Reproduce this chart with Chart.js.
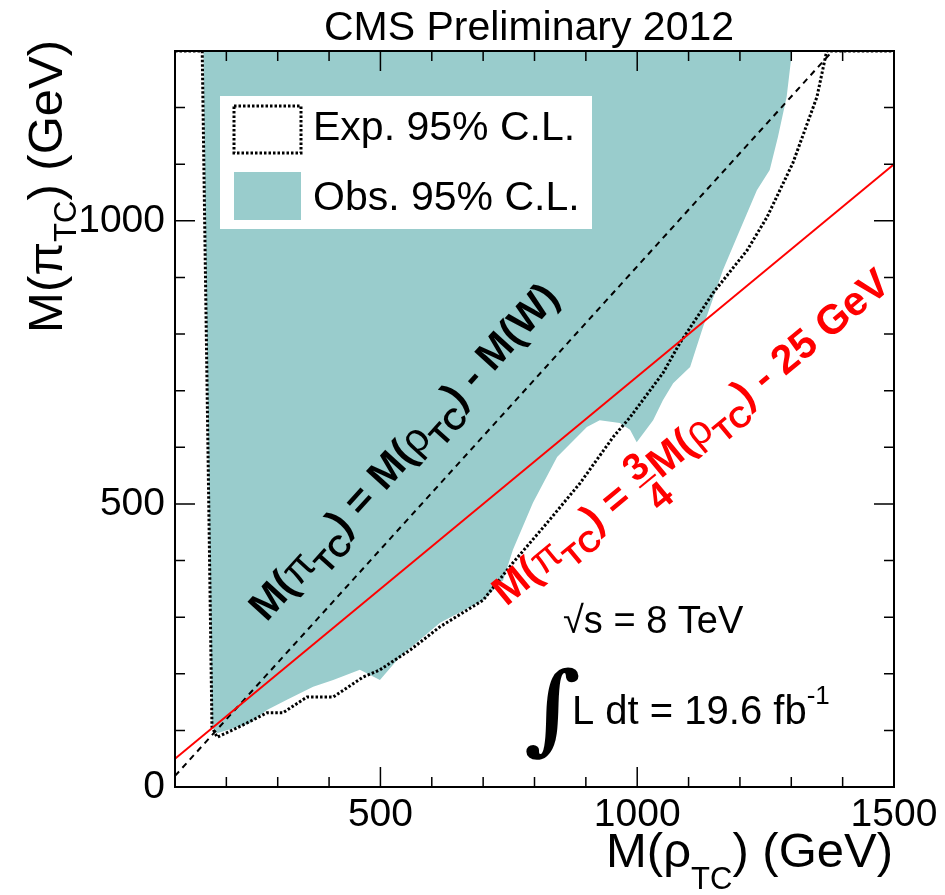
<!DOCTYPE html>
<html>
<head>
<meta charset="utf-8">
<script src="https://cdn.jsdelivr.net/npm/chart.js@4.4.1/dist/chart.umd.min.js"></script>
<style>
  html, body { margin: 0; padding: 0; background: #fff; }
  canvas { display: block; }
</style>
</head>
<body>
<canvas id="limits" width="945" height="895"></canvas>
<script>
// observed 95% CL exclusion (filled up to the top of the plot)
const obsRho = [155, 172, 182, 246, 279, 318, 369, 408, 460, 499, 538, 616, 700, 739, 758, 797, 844, 902, 927, 966, 986, 999, 1031, 1050, 1070, 1103, 1128, 1167, 1200, 1233, 1258, 1274, 1291, 1301, 1302];
const obsPi  = [1300, 106, 95, 113, 136, 154, 177, 189, 207, 189, 230, 290, 330, 365, 419, 502, 583, 636, 648, 643, 631, 609, 648, 683, 713, 742, 812, 913, 984, 1054, 1090, 1148, 1219, 1296, 1300];

// expected 95% CL contour
const expRho = [100, 153, 172, 182, 213, 240, 279, 310, 357, 408, 466, 499, 558, 616, 700, 758, 824, 889, 953, 986, 1050, 1083, 1148, 1214, 1253, 1303, 1350, 1369, 1500];
const expPi  = [1300, 1300, 106, 88, 101, 113, 131, 131, 159, 159, 194, 207, 242, 283, 330, 396, 466, 537, 618, 653, 731, 784, 873, 948, 1007, 1102, 1219, 1300, 1300];

// kinematic lines: M(pi) = M(rho) - M(W), M(pi) = 3/4 M(rho) - 25
const wLineRho = [100, 1380.4];
const wLinePi  = [19.6, 1300];
const redLineRho = [100, 1500];
const redLinePi  = [50, 1100];

const xTickLabels = [500, 1000, 1500];
const yTickLabels = [0, 500, 1000];

const F = '"Liberation Sans", Helvetica, Arial, sans-serif';
const TEAL = '#99cccc';

const pts = (xs, ys) => xs.map((v, i) => ({ x: v, y: ys[i] }));

// draw a run of text pieces (with sub/superscripts, fractions) starting at local 0,0
function runText(ctx, parts, draw) {
  let x = 0;
  for (const p of parts) {
    ctx.font = p.f;
    if (p.frac) {
      const w = Math.max(ctx.measureText(p.frac[0]).width, ctx.measureText(p.frac[1]).width);
      if (draw) {
        ctx.textAlign = 'center';
        ctx.fillText(p.frac[0], x + 2 + w / 2, p.num);
        ctx.fillText(p.frac[1], x + 2 + w / 2, p.den);
        ctx.fillRect(x + 2, p.bar, w, 2);
        ctx.textAlign = 'left';
      }
      x += w + 3;
    } else {
      if (draw) ctx.fillText(p.t, x, p.dy || 0);
      x += ctx.measureText(p.t).width;
    }
  }
  return x;
}

function placeText(ctx, x, y, ang, parts, color, align) {
  ctx.save();
  ctx.fillStyle = color;
  ctx.textBaseline = 'alphabetic';
  ctx.textAlign = 'left';
  const w = runText(ctx, parts, false);
  ctx.translate(x, y);
  ctx.rotate(ang);
  if (align === 'right') ctx.translate(-w, 0);
  runText(ctx, parts, true);
  ctx.restore();
}

const rootFrame = {
  id: 'rootFrame',
  afterDatasetsDraw(chart) {
    const { ctx, chartArea: a, scales: { x, y } } = chart;
    ctx.save();
    ctx.strokeStyle = '#000';
    ctx.lineWidth = 1.5;
    ctx.beginPath();
    x.ticks.forEach(t => {
      const px = x.getPixelForValue(t.value);
      const L = t.value % 500 === 0 ? 20 : 10;
      ctx.moveTo(px, a.bottom); ctx.lineTo(px, a.bottom - L);
      ctx.moveTo(px, a.top); ctx.lineTo(px, a.top + L);
    });
    y.ticks.forEach(t => {
      const py = y.getPixelForValue(t.value);
      const L = t.value % 500 === 0 ? 20 : 10;
      ctx.moveTo(a.left, py); ctx.lineTo(a.left + L, py);
      ctx.moveTo(a.right, py); ctx.lineTo(a.right - L, py);
    });
    ctx.stroke();
    ctx.lineWidth = 2;
    ctx.strokeRect(a.left, a.top, a.width, a.height);
    ctx.restore();
  },
  afterDraw(chart) {
    const { ctx, scales: { x, y } } = chart;
    const B = 'bold 41px ' + F, Bs = 'bold 30px ' + F, G = '41px ' + F;

    // title
    ctx.save();
    ctx.fillStyle = '#000';
    ctx.font = '41px ' + F;
    ctx.textAlign = 'center';
    ctx.fillText('CMS Preliminary 2012', 529, 40);
    ctx.restore();

    // legend
    ctx.save();
    ctx.fillStyle = '#fff';
    ctx.fillRect(220, 96, 372, 133);
    ctx.strokeStyle = '#000';
    ctx.lineWidth = 3;
    ctx.setLineDash([2.5, 2]);
    ctx.strokeRect(234, 106, 67, 47);
    ctx.setLineDash([]);
    ctx.fillStyle = TEAL;
    ctx.fillRect(234, 172, 67, 48);
    ctx.fillStyle = '#000';
    ctx.font = '41px ' + F;
    ctx.fillText('Exp. 95% C.L.', 313, 140);
    ctx.fillText('Obs. 95% C.L.', 313, 210);
    ctx.restore();

    // axis titles
    const T = '49px ' + F, Ts = '31px ' + F;
    placeText(ctx, 893, 867, 0, [
      { t: 'M(', f: T }, { t: 'ρ', f: T }, { t: 'TC', f: Ts, dy: 22 }, { t: ') (GeV)', f: T }
    ], '#000', 'right');
    const yParts = [
      { t: 'M(', f: T }, { t: 'π', f: T }, { t: 'TC', f: Ts, dy: 14 }, { t: ') (GeV)', f: T }
    ];
    ctx.save();
    const wy = runText(ctx, yParts, false);
    ctx.restore();
    placeText(ctx, 62, 40 + wy, -Math.PI / 2, yParts, '#000');

    // rotated line labels, angle taken from the lines on the scales
    const angW = Math.atan2(y.getPixelForValue(wLinePi[1]) - y.getPixelForValue(wLinePi[0]),
                            x.getPixelForValue(wLineRho[1]) - x.getPixelForValue(wLineRho[0]));
    const angR = Math.atan2(y.getPixelForValue(redLinePi[1]) - y.getPixelForValue(redLinePi[0]),
                            x.getPixelForValue(redLineRho[1]) - x.getPixelForValue(redLineRho[0]));
    placeText(ctx, x.getPixelForValue(278), y.getPixelForValue(290), angW, [
      { t: 'M(', f: B }, { t: 'π', f: G }, { t: 'TC', f: Bs, dy: 13 },
      { t: ') = M(', f: B }, { t: 'ρ', f: G }, { t: 'TC', f: Bs, dy: 13 }, { t: ') - M(W)', f: B }
    ], '#000');
    placeText(ctx, x.getPixelForValue(745), y.getPixelForValue(318), angR, [
      { t: 'M(', f: B }, { t: 'π', f: G }, { t: 'TC', f: Bs, dy: 13 }, { t: ') = ', f: B },
      { frac: ['3', '4'], f: 'bold 38px ' + F, num: -13, den: 25, bar: -8 },
      { t: 'M(', f: B }, { t: 'ρ', f: G }, { t: 'TC', f: Bs, dy: 13 }, { t: ') - 25 GeV', f: B }
    ], '#ff0000');

    // energy and luminosity
    placeText(ctx, 563, 633, 0, [{ t: '√s = 8 TeV', f: '38px ' + F }], '#000');
    ctx.save();
    ctx.fillStyle = '#000';
    ctx.font = 'bold 98px "DejaVu Serif", serif';
    ctx.fillText('∫', 524, 742);
    ctx.restore();
    placeText(ctx, 572, 724, 0, [
      { t: 'L dt = 19.6 fb', f: '40px ' + F }, { t: '-1', f: '26px ' + F, dy: -20 }
    ], '#000');
  }
};

new Chart(document.getElementById('limits'), {
  type: 'scatter',
  data: {
    datasets: [
      {
        label: 'M(π) = 3/4 M(ρ) - 25 GeV',
        data: pts(redLineRho, redLinePi),
        showLine: true, borderColor: '#ff0000', borderWidth: 2, pointRadius: 0
      },
      {
        label: 'M(π) = M(ρ) - M(W)',
        data: pts(wLineRho, wLinePi),
        showLine: true, borderColor: '#000', borderWidth: 2, borderDash: [6, 5], pointRadius: 0
      },
      {
        label: 'Exp. 95% C.L.',
        data: pts(expRho, expPi),
        showLine: true, borderColor: '#000', borderWidth: 3, borderDash: [2.5, 2], pointRadius: 0
      },
      {
        label: 'Obs. 95% C.L.',
        data: pts(obsRho, obsPi),
        showLine: true, borderWidth: 0, borderColor: TEAL, backgroundColor: TEAL,
        fill: 'end', pointRadius: 0
      }
    ]
  },
  options: {
    responsive: false,
    animation: false,
    layout: { padding: { top: 51, right: 51, left: 0, bottom: 0 } },
    plugins: { legend: { display: false }, tooltip: { enabled: false } },
    scales: {
      x: {
        type: 'linear', min: 100, max: 1500,
        grid: { display: false, drawTicks: false },
        border: { display: false },
        ticks: {
          stepSize: 100, autoSkip: false, maxRotation: 0, color: '#000', padding: 5,
          font: { family: F, size: 39 },
          callback: v => xTickLabels.includes(v) ? String(v) : ''
        },
        afterFit: s => { s.height = 108; }
      },
      y: {
        min: 0, max: 1300,
        grid: { display: false, drawTicks: false },
        border: { display: false },
        ticks: {
          stepSize: 100, autoSkip: false, color: '#000', padding: 10,
          font: { family: F, size: 39 },
          callback: v => yTickLabels.includes(v) ? String(v) : ''
        },
        afterFit: s => { s.width = 175; }
      }
    }
  },
  plugins: [rootFrame]
});
</script>
</body>
</html>
